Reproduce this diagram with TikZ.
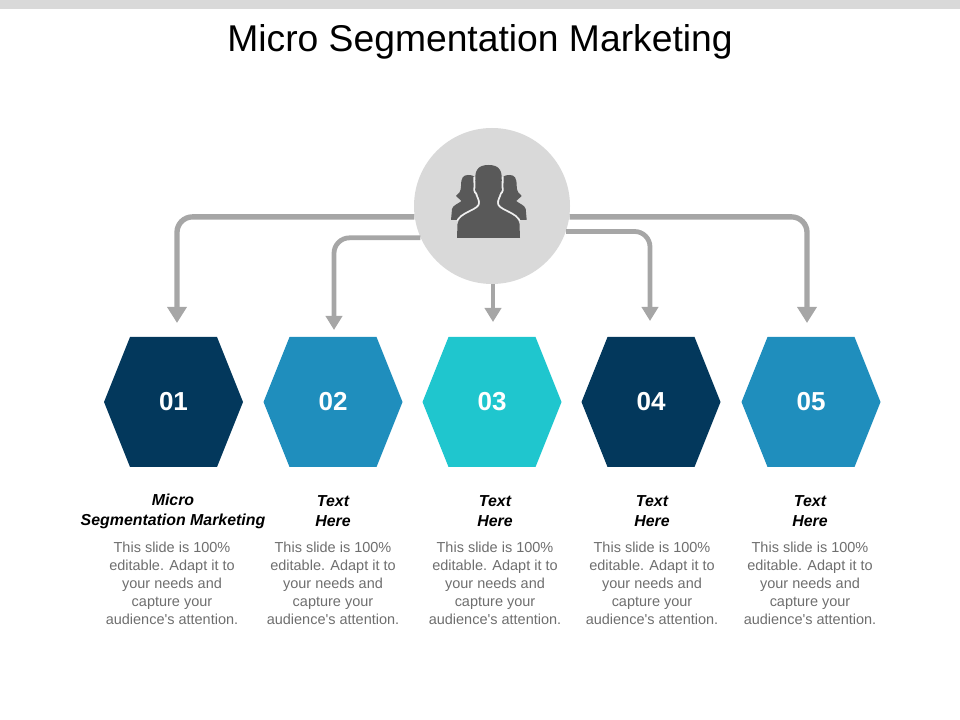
\documentclass[tikz,border=0pt]{standalone}
\usepackage{fontspec}
\setmainfont{Liberation Sans}
\usetikzlibrary{arrows.meta}
\definecolor{navycell}{HTML}{03385C}
\definecolor{bluecell}{HTML}{1F8EBD}
\definecolor{tealcell}{HTML}{1FC6CE}
\definecolor{hubgray}{HTML}{D9D9D9}
\definecolor{linegray}{HTML}{A6A6A6}
\definecolor{icongray}{HTML}{595959}
\definecolor{bodygray}{HTML}{6E6E6E}
\tikzset{
	link/.style={draw=linegray, line width=3.8pt, rounded corners=11pt},
	bigtip/.style={-{Triangle[width=13.5pt,length=11.5pt]}},
	midtip/.style={-{Triangle[width=11.5pt,length=10pt]}},
	numtext/.style={text=white, inner sep=0pt, font=\fontsize{18.5pt}{20pt}\selectfont\bfseries},
	headtext/.style={align=center, inner sep=0pt, font=\fontsize{11.3pt}{14.2pt}\selectfont\bfseries\itshape},
	bodytext/.style={align=center, inner sep=0pt, text=bodygray, font=\fontsize{10.3pt}{12.75pt}\selectfont},
}
\def\hexcell(#1,#2)[#3]#4#5{\fill[#3] (#1-69.5,#2) -- (#1-43.5,#2-65) -- (#1+43.5,#2-65) -- (#1+69.5,#2) -- (#1+43.5,#2+65) -- (#1-43.5,#2+65) -- cycle;
	\node[numtext] (#4) at (#1,#2) {#5};}
\def\bustline{(457.5, 224) .. controls (458, 218) and (464, 215) .. (470, 212) .. controls (476, 209) and (480, 207) .. (480, 203) .. controls (480, 199) and (478, 197) .. (477, 193) .. controls (475, 192) and (474.5, 188) .. (475.5, 186) .. controls (475, 178) and (475, 173) .. (477, 170) .. controls (479, 166) and (484, 165) .. (488.5, 165) .. controls (493, 165) and (498, 166) .. (500, 170) .. controls (502, 173) and (502, 178) .. (501.5, 186) .. controls (502.5, 188) and (502, 192) .. (500, 193) .. controls (499, 197) and (497, 199) .. (497, 203) .. controls (497, 207) and (501, 209) .. (507, 212) .. controls (513, 215) and (519, 218) .. (519.5, 224)}
\def\aud{audience\textquotesingle s attention.}
\begin{document}
\begin{tikzpicture}[x=0.025cm, y=-0.025cm]
	%%%%% START %%%%%
	\useasboundingbox (0, 0) rectangle (960, 720);
	
	\fill[hubgray] (0, 0) rectangle (960, 9);
	\node[inner sep=0pt, font=\fontsize{26.5pt}{30pt}\selectfont] (title) at (480, 42) {Micro Segmentation Marketing};
	
	\node[circle, fill=hubgray, minimum size=156*0.025cm, inner sep=0pt] (hub) at (492, 206) {};
	
	\coordinate (tip1) at (177, 323);
	\coordinate (tip2) at (334, 330);
	\coordinate (tip3) at (493, 322);
	\coordinate (tip4) at (650, 321);
	\coordinate (tip5) at (807, 323);
	
	\draw[link, bigtip] (hub.188) -| (tip1);
	\draw[link, midtip, line width=3.4pt] (hub.204) -| (tip2);
	\draw[link, midtip, line width=2.6pt] (hub.south -| tip3) -- (tip3);
	\draw[link, midtip, line width=3.4pt] (hub.341) -| (tip4);
	\draw[link, bigtip] (hub.352) -| (tip5);
	
	% people in the hub
	\fill[icongray] (451, 220) -- (452, 209) .. controls (453, 205) and (458, 204) .. (461.5, 201) -- (456, 196) .. controls (459, 194) and (461, 191) .. (461, 186) .. controls (461, 178) and (463, 175) .. (468, 175) .. controls (472, 175) and (474, 176) .. (476, 178) -- (482, 220) -- cycle;
	\fill[icongray] (526.7, 220) -- (525.7, 209) .. controls (524.7, 205) and (519.7, 204) .. (516.2, 201) -- (521.7, 196) .. controls (518.7, 194) and (516.7, 191) .. (516.7, 186) .. controls (516.7, 178) and (514.7, 175) .. (509.7, 175) .. controls (505.7, 175) and (503.7, 176) .. (501.7, 178) -- (495.7, 220) -- cycle;
	\begin{scope}
		\clip (440, 178) rectangle (540, 221);
		\draw[hubgray!40!white, line width=2.6pt] \bustline;
	\end{scope}
	\fill[icongray] (457, 238) -- \bustline -- (520, 238) -- cycle;
	
	\hexcell(173.5,402)[navycell]{cell1}{01}
	\hexcell(333,402)[bluecell]{cell2}{02}
	\hexcell(492,402)[tealcell]{cell3}{03}
	\hexcell(651,402)[navycell]{cell4}{04}
	\hexcell(811,402)[bluecell]{cell5}{05}
	
	\node[headtext] (head1) at (173, 511) {Micro\\Segmentation Marketing};
	\node[headtext] (head2) at (333, 511) {Text\\Here};
	\node[headtext] (head3) at (495, 511) {Text\\Here};
	\node[headtext] (head4) at (652, 511) {Text\\Here};
	\node[headtext] (head5) at (810, 511) {Text\\Here};
	
	\node[bodytext] (body1) at (172, 583.5) {This slide is 100\%\\editable. Adapt it to\\your needs and\\capture your\\\aud};
	\node[bodytext] (body2) at (333, 583.5) {This slide is 100\%\\editable. Adapt it to\\your needs and\\capture your\\\aud};
	\node[bodytext] (body3) at (495, 583.5) {This slide is 100\%\\editable. Adapt it to\\your needs and\\capture your\\\aud};
	\node[bodytext] (body4) at (652, 583.5) {This slide is 100\%\\editable. Adapt it to\\your needs and\\capture your\\\aud};
	\node[bodytext] (body5) at (810, 583.5) {This slide is 100\%\\editable. Adapt it to\\your needs and\\capture your\\\aud};
	%%%%% END %%%%%
\end{tikzpicture}
\end{document}
